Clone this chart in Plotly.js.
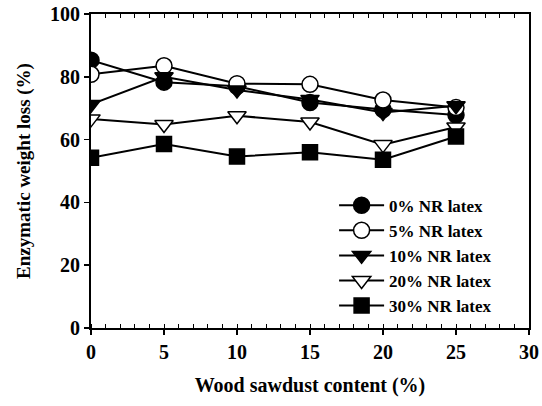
<!DOCTYPE html>
<html>
<head>
<meta charset="utf-8">
<script src="https://cdn.plot.ly/plotly-3.0.1.min.js"></script>
<style>html,body{margin:0;padding:0;background:#fff;}#chart{width:542px;height:406px;}</style>
</head>
<body>
<div id="chart"></div>
<script>
const sawdust = [0, 5, 10, 15, 20, 25];
const seriesNames = ["0% NR latex", "5% NR latex", "10% NR latex", "20% NR latex", "30% NR latex"];
const nr0 = [85.3, 78.3, 77.0, 71.8, 69.6, 67.8];
const nr5 = [80.8, 83.5, 77.8, 77.6, 72.6, 70.2];
const nr10 = [71.2, 80.0, 75.8, 72.8, 68.6, 70.8];
const nr20 = [66.6, 64.8, 67.6, 65.6, 58.4, 64.0];
const nr30 = [54.2, 58.6, 54.6, 56.0, 53.6, 61.0];
const xTicks = [0, 5, 10, 15, 20, 25, 30];
const yTicks = [0, 20, 40, 60, 80, 100];

const seriesValues = [nr0, nr5, nr10, nr20, nr30];
const symbols = ["circle", "circle-open", "triangle-down", "triangle-down-open", "square"];
const sizes = [16, 16, 16, 16, 15];

const traces = seriesValues.map((vals, i) => ({
  x: sawdust,
  y: vals,
  name: seriesNames[i],
  type: "scatter",
  mode: "lines+markers",
  line: {color: "#000", width: 2},
  marker: {
    symbol: symbols[i].replace("-open", ""),
    size: sizes[i],
    color: symbols[i].endsWith("-open") ? "#fff" : "#000",
    line: {color: "#000", width: 1.5}
  }
}));

const fam = "Liberation Serif, Times New Roman, serif";
const font = {family: fam, color: "#000", size: 19, weight: "bold"};

const layout = {
  width: 542, height: 406,
  margin: {l: 91, r: 13, t: 14, b: 78},
  paper_bgcolor: "#fff", plot_bgcolor: "#fff",
  font: font,
  showlegend: true,
  legend: {
    x: 0.555, y: 0.447, xanchor: "left", yanchor: "top",
    bgcolor: "rgba(0,0,0,0)", borderwidth: 0,
    font: {family: fam, size: 17, color: "#000", weight: "bold"},
    tracegroupgap: 0, itemwidth: 45
  },
  xaxis: {
    range: [0, 30], tickvals: xTicks, ticktext: xTicks.map(String),
    showgrid: false, zeroline: false,
    showline: true, linecolor: "#000", linewidth: 2,
    ticks: "outside", ticklen: 5, tickwidth: 1.5, tickcolor: "#000",
    minor: {dtick: 1, ticks: "inside", ticklen: 4, tickwidth: 1, tickcolor: "#000", showgrid: false},
    tickfont: {family: fam, size: 20, color: "#000", weight: "bold"},
    title: {text: "Wood sawdust content (%)", font: {family: fam, size: 20, color: "#000", weight: "bold"}, standoff: 16},
    fixedrange: true
  },
  xaxis2: {
    range: [0, 30], overlaying: "x", side: "top", anchor: "y",
    showgrid: false, zeroline: false, showline: true, linecolor: "#000", linewidth: 2,
    dtick: 1, tick0: 0, ticks: "inside", ticklen: 4, tickwidth: 1, tickcolor: "#000",
    showticklabels: false
  },
  yaxis: {
    range: [0, 100], tickvals: yTicks, ticktext: yTicks.map(String),
    showgrid: false, zeroline: false,
    showline: true, linecolor: "#000", linewidth: 2, mirror: true,
    ticks: "outside", ticklen: 5, tickwidth: 1.5, tickcolor: "#000",
    tickfont: {family: fam, size: 20, color: "#000", weight: "bold"},
    title: {text: "Enzymatic weight loss (%)", font: {family: fam, size: 19, color: "#000", weight: "bold"}, standoff: 14},
    fixedrange: true
  }
};

// invisible trace so the top mirror axis (xaxis2) is drawn
traces.push({x: [0, 30], y: [null, null], xaxis: "x2", yaxis: "y", showlegend: false, hoverinfo: "skip", mode: "lines"});

Plotly.newPlot("chart", traces, layout, {displayModeBar: false, staticPlot: true});
</script>
</body>
</html>
